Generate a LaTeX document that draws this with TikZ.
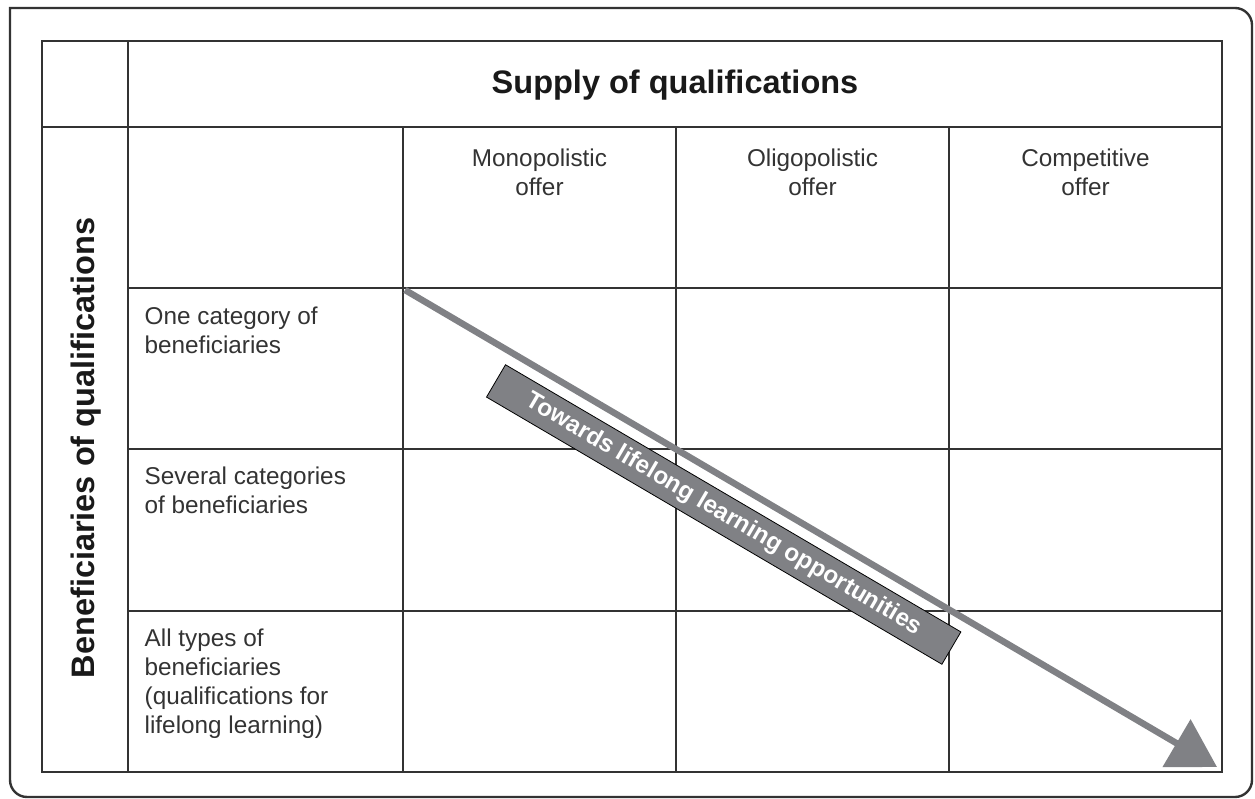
\documentclass[tikz,border=0pt]{standalone}
\usepackage{fontspec}
\setmainfont{Liberation Sans}
\usetikzlibrary{arrows.meta}
\definecolor{rulegray}{RGB}{51,51,51}
\definecolor{arrowgray}{RGB}{128,129,133}

\begin{document}
\begin{tikzpicture}[x=1pt,y=-1pt]
  \tikzstyle{every node}=[inner sep=0pt]
  \tikzstyle{frame}=[draw=rulegray,line width=2.4pt]
  \tikzstyle{grid}=[draw=rulegray,line width=1.3pt]
  \tikzstyle{head}=[font=\fontsize{32.5}{36}\selectfont\bfseries,text=black!90]
  \tikzstyle{cell}=[font=\fontsize{24.3}{29}\selectfont,text=black!80]
  \tikzstyle{trend}=[draw=arrowgray,line width=6.5pt,-{Triangle[length=47pt,width=54pt]}]
  \tikzstyle{banner}=[fill=arrowgray,draw=black,line width=0.8pt,rotate=-30.4,
    minimum width=528pt,minimum height=37.5pt,text=white,
    font=\fontsize{24.3}{28}\selectfont\bfseries]
\useasboundingbox (0,0) rectangle (1255,799);
\draw[frame,rounded corners=17pt,line cap=rect] (10,8) -- (1252,8) -- (1252,797) -- (10,797) -- (10,8);
\draw[grid] (42,41) rectangle (1222,772);
\draw[grid] (42,127) -- (1222,127);
\draw[grid] (128,41) -- (128,772);
\foreach \x in {403,676,949} \draw[grid] (\x,127) -- (\x,772);
\foreach \y in {288,449,611} \draw[grid] (128,\y) -- (1222,\y);
\node[head,anchor=base] (supply) at (675,93.5) {Supply of qualifications};
\node[head,anchor=base,rotate=90] (benef) at (94,448) {Beneficiaries of qualifications};
\node[cell,anchor=north,align=center] (mono) at (539.5,148.3) {Monopolistic\\offer};
\node[cell,anchor=north,align=center] (oligo) at (812.5,148.3) {Oligopolistic\\offer};
\node[cell,anchor=north,align=center] (comp) at (1085.5,148.3) {Competitive\\offer};
\node[cell,anchor=north west,align=left] (one) at (144.5,306.7) {One category of\\beneficiaries};
\node[cell,anchor=north west,align=left] (several) at (144.5,466.7) {Several categories\\of beneficiaries};
\node[cell,anchor=north west,align=left] (all) at (144.5,628.3) {All types of\\beneficiaries\\(qualifications for\\lifelong learning)};
\coordinate (from) at (405,290);
\coordinate (to) at (1217,767);
\draw[trend] (from) -- (to);
\node[banner] (towards) at (723.7,514.5) {Towards lifelong learning opportunities};
\end{tikzpicture}
\end{document}
